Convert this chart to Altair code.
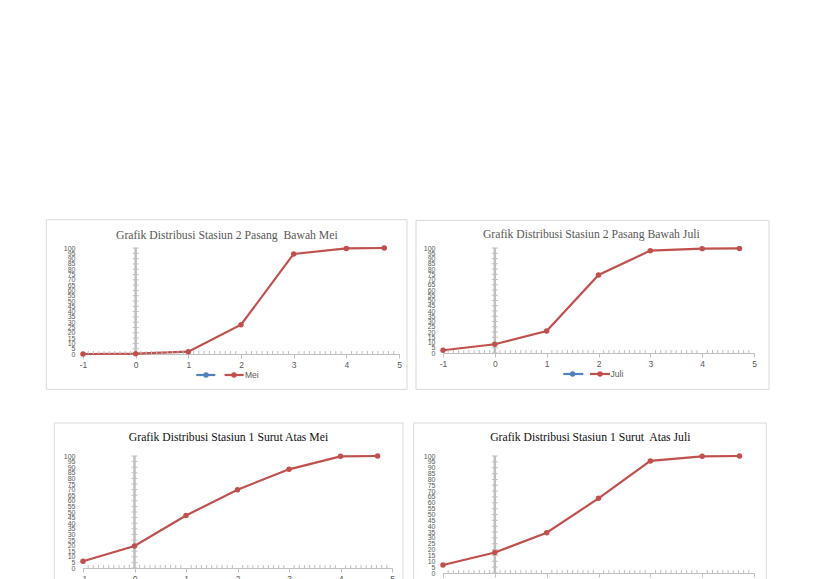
import altair as alt
import numpy as np
import pandas as pd

# ---- data ----
x_vals = [-1, 0, 1, 2, 3, 4, 4.72]
mei_s2 = [0, 0.3, 2.2, 27.6, 94.4, 99.6, 100]
juli_s2 = [2.6, 8.3, 21.0, 74.3, 97.5, 99.4, 99.6]
mei_s1 = [6.0, 19.7, 46.9, 69.9, 88.1, 99.7, 100]
juli_s1 = [6.8, 17.5, 34.4, 63.8, 95.8, 99.7, 100]

titles = [
    "Grafik Distribusi Stasiun 2 Pasang\u00a0 Bawah Mei",
    "Grafik Distribusi Stasiun 2 Pasang Bawah Juli",
    "Grafik Distribusi Stasiun 1 Surut Atas Mei",
    "Grafik Distribusi Stasiun 1 Surut\u00a0 Atas Juli",
]
series_names = ["Mei", "Juli", "Mei", "Juli"]
x_ticks = [-1, 0, 1, 2, 3, 4, 5]
y_ticks = list(range(0, 101, 5))
minor_x = [round(v, 2) for v in np.arange(-1, 5.001, 0.1) if abs(v - round(v)) > 1e-6]

RED = "#C0504D"
BLUE = "#4F81BD"
AXIS = "#BFBFBF"
LABEL = "#595959"

one = pd.DataFrame({"k": [0]})

XAXIS = alt.Axis(
    values=x_ticks, labelExpr="'' + datum.value", title=None, grid=False,
    domainColor=AXIS, domainWidth=1, tickColor=AXIS, tickSize=4,
    labelFontSize=8.5, labelColor=LABEL, labelFont="Liberation Sans",
    labelPadding=2, labelFlush=False, labelOverlap=False,
)
YAXIS = alt.Axis(
    values=y_ticks, title=None, grid=False, domain=False, ticks=False,
    labelFontSize=7, labelColor=LABEL, labelFont="Liberation Sans",
    labelPadding=8, labelOverlap=False, labelFlush=False,
)


def make_panel(yv, title, name, w, h, frame, tpos, tcolor, leg):
    df = pd.DataFrame({"x": x_vals, "y": yv})
    xs = alt.Scale(domain=[-1, 5], nice=False, zero=False)
    ys = alt.Scale(domain=[0, 100], nice=False)
    fl, fr, ft, fb = frame

    line = alt.Chart(df).mark_line(color=RED, strokeWidth=2.2).encode(
        x=alt.X("x:Q", scale=xs, axis=XAXIS),
        y=alt.Y("y:Q", scale=ys, axis=YAXIS),
    )
    frame_l = alt.Chart(one).mark_rect(filled=False, stroke="#D9D9D9", strokeWidth=1).encode(
        x=alt.value(fl), x2=alt.value(fr), y=alt.value(ft), y2=alt.value(fb)
    )
    minor = alt.Chart(pd.DataFrame({"x": minor_x})).mark_rule(color=AXIS, strokeWidth=1).encode(
        x=alt.X("x:Q", scale=xs, axis=XAXIS), y=alt.value(h - 3), y2=alt.value(h)
    )
    px0 = w / 6.0
    yline = alt.Chart(one).mark_rule(color=AXIS, strokeWidth=2.5).encode(
        x=alt.value(px0), y=alt.value(0), y2=alt.value(h)
    )
    yminor = alt.Chart(pd.DataFrame({"y": y_ticks})).mark_rule(color=AXIS, strokeWidth=1).encode(
        y=alt.Y("y:Q", scale=ys, axis=YAXIS), x=alt.value(px0 - 3), x2=alt.value(px0 + 3)
    )
    pts = alt.Chart(df).mark_circle(color=RED, size=30, opacity=1).encode(
        x=alt.X("x:Q", scale=xs, axis=XAXIS), y=alt.Y("y:Q", scale=ys, axis=YAXIS)
    )
    ttl = alt.Chart(one).mark_text(
        font="Liberation Serif", fontSize=11.7, color=tcolor, align="center", baseline="alphabetic"
    ).encode(x=alt.value(tpos[0]), y=alt.value(tpos[1]), text=alt.value(title))

    bx1, bx2, bd, rx1, rx2, rd, tx, ly = leg
    lb = alt.Chart(one).mark_rule(color=BLUE, strokeWidth=2.2).encode(
        x=alt.value(bx1), x2=alt.value(bx2), y=alt.value(ly)
    )
    lbd = alt.Chart(one).mark_circle(color=BLUE, size=30, opacity=1).encode(
        x=alt.value(bd), y=alt.value(ly)
    )
    lr = alt.Chart(one).mark_rule(color=RED, strokeWidth=2.2).encode(
        x=alt.value(rx1), x2=alt.value(rx2), y=alt.value(ly)
    )
    lrd = alt.Chart(one).mark_circle(color=RED, size=30, opacity=1).encode(
        x=alt.value(rd), y=alt.value(ly)
    )
    lt = alt.Chart(one).mark_text(
        font="Liberation Sans", fontSize=8.5, color=LABEL, align="left", baseline="middle"
    ).encode(x=alt.value(tx), y=alt.value(ly), text=alt.value(name))

    return alt.layer(line, frame_l, minor, yline, yminor, pts, ttl, lb, lbd, lr, lrd, lt).properties(
        width=w, height=h
    )


p1 = make_panel(mei_s2, titles[0], series_names[0], 316, 106,
                (-36.7, 324, -28.3, 141.4), (143.8, -8.6), LABEL,
                (113.3, 132.3, 123, 141.6, 160.6, 151, 162, 127))
p2 = make_panel(juli_s2, titles[1], series_names[1], 311, 105,
                (-27, 326, -27.6, 141.4), (148.3, -10), LABEL,
                (120.3, 140.3, 129.6, 147, 167, 157, 167.6, 126))
p3 = make_panel(mei_s1, titles[2], series_names[2], 309, 112,
                (-28.7, 320, -33, 147), (145.5, -14.6), "#111111",
                (120.3, 140.3, 129.6, 147, 167, 157, 167.6, 133))
p4 = make_panel(juli_s1, titles[3], series_names[3], 311, 117,
                (-29.4, 323.3, -33, 152), (147.3, -15.3), "#111111",
                (120.3, 140.3, 129.6, 147, 167, 157, 167.6, 138))

chart = alt.concat(
    p1, p2, p3, p4, columns=2, spacing={"row": 102, "column": 44}, bounds="flush", align="each"
).properties(
    padding={"left": 37, "top": 211, "right": 5, "bottom": 5}, background="white"
).configure_view(stroke=None)

chart.save("out.html", embed_options={"renderer": "svg", "actions": False})
